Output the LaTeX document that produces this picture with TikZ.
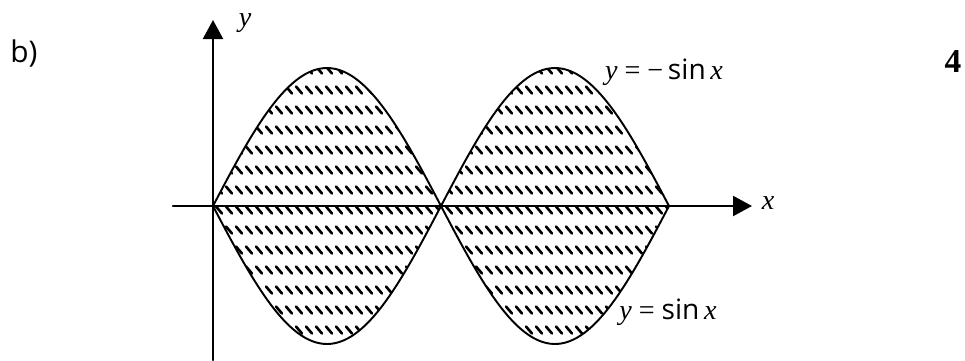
\documentclass[tikz,border=0pt]{standalone}
\usepackage{fontspec}
\setmainfont{Liberation Serif}
\setsansfont{Open Sans}
\usetikzlibrary{arrows.meta}

\begin{document}
\begin{tikzpicture}[x=0.02cm, y=0.02cm, line cap=round,
    curve/.style={line width=1.1pt},
    axis/.style={line width=1.3pt, -{Triangle[length=3.8mm, width=4mm]}},
    hatch/.style={line width=1.5pt},
    lbl/.style={font=\fontsize{16}{19}\selectfont}]
    \useasboundingbox (-213,-154) rectangle (752,206);

    % Hatching between the two curves
    \begin{scope}
        \clip plot[domain=0:456, samples=120] (\x, {138*sin(\x/228*180)})
            -- plot[domain=456:0, samples=120] (\x, {-138*sin(\x/228*180)}) -- cycle;
        \foreach \row in {136,116,...,-124}
            \foreach \col in {-4,6,...,460}
                \draw[hatch] (\col-3,\row+3.5) -- ++(6,-7);
    \end{scope}

    % Curves
    \draw[curve] plot[domain=0:456, samples=120] (\x, {138*sin(\x/228*180)});
    \draw[curve] plot[domain=0:456, samples=120] (\x, {-138*sin(\x/228*180)});

    % Axes
    \coordinate (xstart) at (-40,0);
    \coordinate (xtip) at (539,0);
    \coordinate (ystart) at (0,-154);
    \coordinate (ytip) at (0,186);
    \draw[axis] (xstart) -- (xtip);
    \draw[axis] (ystart) -- (ytip);
    \node[lbl] (xlab) at (555,3) {\itshape x};
    \node[lbl] (ylab) at (32,183) {\itshape y};

    % Labels
    \node[lbl] (negsin) at (451,134) {\itshape y\upshape\ = −\,\textsf{sin}\,\itshape x};
    \node[lbl] (possin) at (455,-106) {\itshape y\upshape\ = \textsf{sin}\,\itshape x};
    \node[font=\sffamily\fontsize{17}{20}\selectfont] (part) at (-189,152) {b)};
    \node[font=\bfseries\fontsize{19}{22}\selectfont] (marks) at (740,144) {4};
\end{tikzpicture}
\end{document}
